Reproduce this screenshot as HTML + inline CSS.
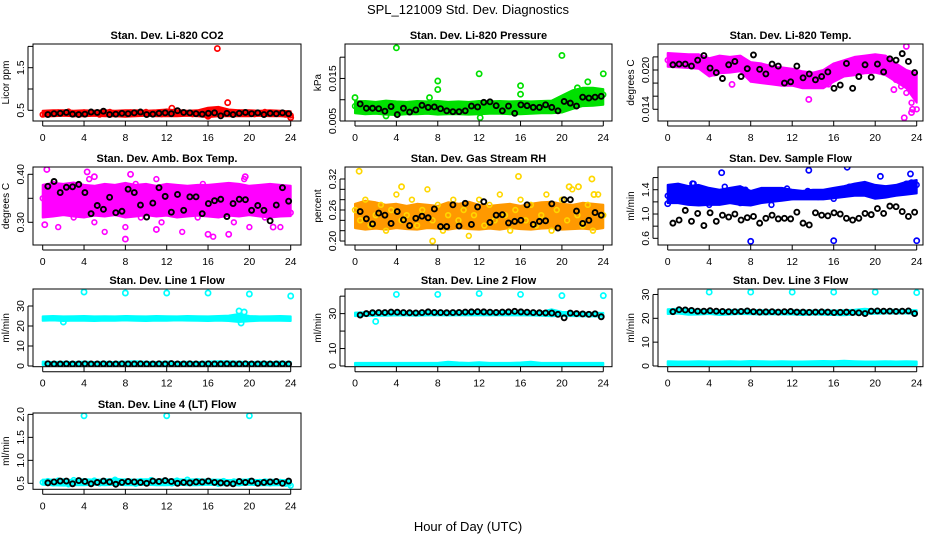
<!DOCTYPE html>
<html><head><meta charset="utf-8">
<style>
html,body{margin:0;padding:0;background:#fff;}
svg{display:block;font-family:"Liberation Sans",Arial,sans-serif;}
</style></head>
<body>
<svg id="chart" width="936" height="540" viewBox="0 0 936 540" xmlns="http://www.w3.org/2000/svg">
<rect x="0" y="0" width="936" height="540" fill="#fff"/>
<text x="468" y="14" font-size="13" text-anchor="middle">SPL_121009  Std. Dev. Diagnostics</text>
<text x="468" y="531" font-size="13" text-anchor="middle">Hour of Day (UTC)</text>
</svg>
<script>
// ---------- data ----------
const xTicks = [0,4,8,12,16,20,24];

// P1 CO2
const co2Lo = [0.36,0.36,0.37,0.36,0.36,0.37,0.36,0.36,0.35,0.36,0.37,0.36,0.36,0.36,0.37,0.36,0.34,0.36,0.36,0.36,0.36,0.37,0.36,0.36,0.35];
const co2Hi = [0.49,0.50,0.50,0.49,0.50,0.49,0.50,0.49,0.50,0.50,0.49,0.50,0.52,0.50,0.49,0.50,0.56,0.58,0.52,0.50,0.50,0.49,0.50,0.49,0.48];
const co2Color = [0.40,0.44,0.42,0.45,0.43,0.47,0.41,0.43,0.45,0.42,0.44,0.40,0.43,0.46,0.42,0.44,0.41,0.45,0.43,0.42,0.46,0.44,0.43,0.41,0.47,0.44,0.42,0.45,0.43,0.41,0.44,0.42,0.38,0.48,0.50,0.46,0.44,0.43,0.45,0.42,0.44,0.41,0.43,0.46,0.42,0.44,0.43,0.40,0.38];
const co2OutH = [16.9,17.9,16.0,24.0,12.5];
const co2OutV = [1.95,0.68,0.36,0.33,0.55];
const co2Black = [0.40,0.42,0.43,0.45,0.41,0.40,0.41,0.46,0.45,0.48,0.40,0.41,0.43,0.42,0.44,0.46,0.40,0.41,0.43,0.44,0.42,0.49,0.45,0.44,0.42,0.41,0.43,0.44,0.37,0.43,0.40,0.43,0.45,0.42,0.44,0.40,0.43,0.42,0.44,0.42];

// P2 Pressure
const prLo = [0.0068,0.0066,0.0067,0.0065,0.0064,0.0066,0.0066,0.0067,0.0065,0.0066,0.0066,0.0065,0.0066,0.0067,0.0067,0.0066,0.0066,0.0067,0.0068,0.0068,0.0070,0.0078,0.0085,0.0086,0.0088];
const prHi = [0.0096,0.0097,0.0095,0.0098,0.0096,0.0095,0.0097,0.0096,0.0097,0.0095,0.0096,0.0095,0.0097,0.0096,0.0097,0.0096,0.0097,0.0096,0.0097,0.0098,0.0110,0.0122,0.0128,0.0128,0.0125];
const prColor = [0.0085,0.0080,0.0078,0.0082,0.0075,0.0080,0.0079,0.0083,0.0072,0.0078,0.0081,0.0076,0.0080,0.0084,0.0079,0.0077,0.0083,0.0075,0.0079,0.0082,0.0078,0.0076,0.0081,0.0079,0.0083,0.0080,0.0077,0.0082,0.0085,0.0079,0.0081,0.0078,0.0080,0.0083,0.0079,0.0082,0.0081,0.0084,0.0080,0.0087,0.0095,0.0102,0.0108,0.0110,0.0112,0.0108,0.0113,0.0115,0.0112];
const prOutH = [4,8,8,12,12.1,16,16,20,24,22.5,0,7.2,3,21.5];
const prOutV = [0.0222,0.0144,0.0124,0.0161,0.0058,0.0133,0.0113,0.0204,0.0161,0.0142,0.0105,0.0105,0.0062,0.0128];
const prBlack = [0.0090,0.0080,0.0080,0.0079,0.0073,0.0084,0.0065,0.0080,0.0071,0.0076,0.0087,0.0082,0.0083,0.0079,0.0074,0.0072,0.0072,0.0074,0.0085,0.0083,0.0094,0.0095,0.0086,0.0074,0.0085,0.0068,0.0088,0.0086,0.0082,0.0082,0.0088,0.0082,0.0074,0.0096,0.0092,0.0085,0.0106,0.0104,0.0106,0.0108];

// P3 Li-820 Temp
const ltLo = [0.0205,0.0204,0.0203,0.0202,0.0190,0.0195,0.0196,0.0198,0.0182,0.0180,0.0178,0.0176,0.0176,0.0172,0.0172,0.0172,0.0182,0.0190,0.0192,0.0195,0.0196,0.0192,0.0182,0.0172,0.0150];
const ltHi = [0.0226,0.0225,0.0224,0.0224,0.0218,0.0222,0.0220,0.0222,0.0212,0.0210,0.0206,0.0204,0.0202,0.0198,0.0196,0.0200,0.0210,0.0215,0.0220,0.0222,0.0224,0.0222,0.0210,0.0200,0.0195];
const ltColor = [0.0215,0.0210,0.0218,0.0212,0.0214,0.0210,0.0216,0.0213,0.0200,0.0195,0.0212,0.0215,0.0208,0.0206,0.0218,0.0212,0.0196,0.0190,0.0200,0.0192,0.0185,0.0188,0.0190,0.0186,0.0182,0.0184,0.0178,0.0180,0.0185,0.0190,0.0180,0.0178,0.0192,0.0196,0.0200,0.0205,0.0206,0.0208,0.0210,0.0212,0.0214,0.0210,0.0212,0.0200,0.0185,0.0175,0.0165,0.0150,0.0140];
const ltOutH = [13.6,22.8,23.0,21.8,23.6,23.5,6.2];
const ltOutV = [0.0155,0.0127,0.0236,0.0170,0.0140,0.0135,0.0178];
const ltBlack = [0.0208,0.0209,0.0209,0.0206,0.0215,0.0222,0.0203,0.0196,0.0187,0.0208,0.0213,0.0190,0.0202,0.0223,0.0201,0.0194,0.0209,0.0206,0.0180,0.0182,0.0206,0.0188,0.0194,0.0185,0.0190,0.0197,0.0172,0.0177,0.0210,0.0172,0.0190,0.0208,0.0189,0.0209,0.0197,0.0217,0.0215,0.0225,0.0213,0.0196];

// P4 Amb Box Temp
const abLo = [0.310,0.312,0.315,0.312,0.310,0.314,0.312,0.315,0.310,0.312,0.315,0.312,0.314,0.310,0.312,0.314,0.312,0.310,0.314,0.312,0.315,0.312,0.310,0.312,0.313];
const abHi = [0.378,0.382,0.380,0.383,0.378,0.376,0.380,0.378,0.382,0.378,0.380,0.376,0.380,0.378,0.376,0.378,0.378,0.380,0.382,0.380,0.376,0.378,0.380,0.378,0.376];
const abColor = [0.35,0.32,0.38,0.29,0.36,0.34,0.31,0.37,0.33,0.39,0.30,0.35,0.28,0.36,0.33,0.37,0.29,0.34,0.38,0.31,0.36,0.33,0.39,0.30,0.35,0.32,0.37,0.28,0.34,0.36,0.31,0.38,0.33,0.27,0.35,0.32,0.37,0.30,0.34,0.39,0.29,0.36,0.33,0.31,0.37,0.34,0.29,0.36,0.32];
const abOutH = [0.4,4.3,8.0,8.5,0.2,5.0,16.0,18.0,19.6,22.3,11.0];
const abOutV = [0.410,0.405,0.265,0.400,0.295,0.395,0.275,0.275,0.395,0.290,0.285];
const abBlack = [0.375,0.385,0.362,0.373,0.374,0.379,0.362,0.318,0.335,0.327,0.352,0.320,0.323,0.369,0.362,0.336,0.311,0.340,0.372,0.354,0.321,0.358,0.325,0.353,0.353,0.318,0.339,0.345,0.348,0.312,0.339,0.348,0.347,0.325,0.335,0.325,0.303,0.336,0.372,0.344];

// P5 Gas Stream RH
const rhLo = [0.225,0.222,0.224,0.222,0.225,0.223,0.222,0.225,0.224,0.222,0.225,0.223,0.222,0.224,0.222,0.225,0.223,0.222,0.224,0.225,0.222,0.223,0.224,0.222,0.225];
const rhHi = [0.272,0.278,0.275,0.270,0.272,0.268,0.272,0.270,0.268,0.275,0.272,0.276,0.270,0.268,0.270,0.272,0.268,0.272,0.275,0.276,0.272,0.270,0.274,0.272,0.270];
const rhColor = [0.26,0.24,0.28,0.23,0.25,0.27,0.22,0.26,0.29,0.24,0.25,0.28,0.23,0.26,0.30,0.24,0.27,0.22,0.25,0.28,0.24,0.26,0.21,0.25,0.28,0.23,0.27,0.24,0.29,0.25,0.22,0.26,0.28,0.24,0.27,0.23,0.25,0.29,0.22,0.26,0.28,0.24,0.30,0.25,0.23,0.27,0.22,0.29,0.25];
const rhOutH = [0.4,15.8,22.9,4.5,7.5,20.7,21.6,23.1];
const rhOutV = [0.335,0.325,0.320,0.305,0.200,0.305,0.305,0.290];
const rhBlack = [0.257,0.243,0.233,0.254,0.250,0.234,0.257,0.241,0.230,0.244,0.248,0.245,0.262,0.228,0.228,0.270,0.229,0.273,0.232,0.266,0.276,0.236,0.250,0.251,0.235,0.238,0.240,0.270,0.232,0.238,0.239,0.272,0.225,0.280,0.280,0.258,0.234,0.240,0.255,0.250];

// P6 Sample Flow
const sfLo = [1.18,1.18,1.15,1.14,1.15,1.15,1.18,1.15,1.14,1.18,1.20,1.22,1.24,1.24,1.24,1.24,1.26,1.28,1.30,1.30,1.25,1.27,1.30,1.32,1.34];
const sfHi = [1.48,1.50,1.46,1.48,1.43,1.40,1.43,1.46,1.38,1.43,1.43,1.43,1.40,1.38,1.40,1.40,1.43,1.46,1.50,1.53,1.48,1.46,1.48,1.53,1.56];
const sfColor = [1.30,1.45,1.25,1.38,1.20,1.50,1.28,1.40,1.15,1.35,1.25,1.45,1.22,1.32,1.18,1.40,1.28,1.35,1.22,1.30,1.15,1.38,1.32,1.42,1.28,1.35,1.30,1.38,1.32,1.28,1.35,1.30,1.25,1.40,1.32,1.45,1.38,1.42,1.48,1.40,1.35,1.30,1.42,1.38,1.35,1.45,1.50,1.52,1.48];
const sfOutH = [8.0,16.0,24.0,17.3,5.2,13.6,23.4,2.4,20.5,0.0];
const sfOutV = [0.55,0.56,0.56,1.77,1.68,1.72,1.66,1.50,1.62,1.17];
const sfBlack = [0.85,0.90,1.06,0.88,1.01,0.81,1.02,0.88,0.98,0.95,1.00,0.90,0.94,0.96,0.85,0.93,0.98,0.92,0.93,0.92,1.03,0.85,0.82,1.02,0.98,0.97,1.02,1.00,0.93,0.90,0.93,1.01,0.99,1.09,1.01,1.13,1.12,1.04,0.96,1.03];

// P7 Line 1 Flow
const l1UpLo = [22.6,22.8,22.5,22.7,22.6,22.5,22.7,22.6,22.8,22.6,22.5,22.7,22.6,22.8,22.7,22.6,22.5,22.7,22.5,22.0,22.4,22.6,22.7,22.6,22.5];
const l1UpHi = [24.8,25.0,24.8,24.9,25.0,24.8,24.9,24.8,25.0,24.9,24.8,25.0,24.9,24.8,25.0,24.9,24.8,25.0,25.2,26.0,25.0,24.8,24.9,25.0,24.8];
const l1LoLo = [0.5,0.5,0.5,0.5,0.5,0.5,0.5,0.5,0.5,0.5,0.5,0.5,0.5,0.5,0.5,0.5,0.5,0.5,0.5,0.5,0.5,0.5,0.5,0.5,0.5];
const l1LoHi = [2.2,2.0,2.1,2.0,2.2,2.0,2.1,2.0,2.2,2.4,2.1,2.0,2.2,2.0,2.1,2.0,2.2,2.4,2.3,2.2,2.0,2.1,2.0,2.2,2.0];
const l1OutH = [4,8,12,16,20,24,19.0,19.5,2.0,19.2];
const l1OutV = [37.0,36.5,36.5,36.5,36.0,35.0,27.5,27.0,22.0,21.5];
const l1Black = [1.1,1.0,1.0,1.1,1.0,1.0,1.1,1.0,1.0,1.1,1.0,1.0,1.1,1.0,1.0,1.1,1.0,1.0,1.1,1.0,1.2,1.0,1.0,1.1,1.0,1.0,1.1,1.0,1.0,1.1,1.0,1.0,1.1,1.0,1.0,1.1,1.0,1.0,1.1,1.0];

// P8 Line 2 Flow
const l2UpLo = [28.6,28.8,28.7,28.8,29.0,28.9,28.8,29.0,29.0,28.9,29.0,29.1,29.0,29.0,29.1,29.0,29.0,28.9,28.8,28.5,28.7,28.6,28.5,28.4,28.2];
const l2UpHi = [30.6,30.8,31.0,31.2,31.2,31.0,31.1,31.3,31.4,31.2,31.3,31.5,31.4,31.3,31.3,31.4,31.3,31.2,31.0,32.5,31.0,30.8,30.6,30.5,30.4];
const l2LoLo = [0.4,0.4,0.4,0.4,0.4,0.4,0.4,0.4,0.4,0.4,0.4,0.4,0.4,0.4,0.4,0.4,0.4,0.4,0.4,0.4,0.4,0.4,0.4,0.4,0.4];
const l2LoHi = [1.8,1.8,1.8,1.8,1.8,1.8,1.8,1.8,1.8,2.4,2.0,1.8,2.2,1.8,1.8,1.8,2.0,2.4,1.8,1.8,1.8,1.8,1.8,1.8,1.8];
const l2OutH = [4,8,12,16,20,24,2.0];
const l2OutV = [41.0,41.0,41.5,41.0,40.3,40.3,25.5];
const l2Black = [29.2,30.0,30.5,30.6,30.6,30.9,30.8,30.6,30.5,30.4,30.6,31.0,30.7,30.6,30.5,30.6,30.7,30.9,31.0,31.1,31.0,30.8,30.7,30.9,31.0,31.3,31.0,30.8,30.6,30.5,30.4,30.3,29.6,27.6,30.3,30.0,29.8,29.6,29.9,28.2];

// P9 Line 3 Flow
const l3UpLo = [21.8,22.0,21.5,21.6,21.8,21.4,21.6,21.8,21.7,21.6,21.7,21.6,21.6,21.4,21.6,21.5,21.4,21.3,21.6,21.8,21.9,22.0,22.0,22.0,21.8];
const l3UpHi = [23.8,24.0,23.8,23.6,23.5,23.4,23.5,23.6,23.5,23.4,23.4,23.3,23.4,23.3,23.3,23.4,23.3,23.4,23.6,24.0,23.6,23.5,23.6,23.5,23.4];
const l3LoLo = [0.4,0.4,0.4,0.4,0.4,0.4,0.4,0.4,0.4,0.4,0.4,0.4,0.4,0.4,0.4,0.4,0.4,0.4,0.4,0.4,0.4,0.4,0.4,0.4,0.4];
const l3LoHi = [2.0,1.9,1.9,2.0,1.9,1.9,2.0,1.9,2.1,2.0,1.9,2.0,1.9,1.9,2.0,2.1,2.0,2.2,2.0,1.9,1.9,2.0,1.9,2.0,1.9];
const l3OutH = [4,8,12,16,20,24];
const l3OutV = [31.0,31.0,31.0,31.0,31.0,30.8];
const l3Black = [22.8,23.6,23.5,23.3,23.0,23.0,23.2,23.0,22.9,22.8,22.8,22.9,23.1,22.8,22.6,22.7,22.8,22.6,22.8,22.9,22.6,22.6,22.5,22.6,22.7,22.6,22.4,22.5,22.6,22.4,22.3,22.0,23.0,23.1,23.0,23.0,22.9,23.0,23.1,22.0];

// P10 Line 4 (LT) Flow
const l4Lo = [0.47,0.46,0.45,0.46,0.46,0.47,0.46,0.47,0.46,0.46,0.47,0.46,0.46,0.47,0.46,0.46,0.47,0.46,0.46,0.46,0.47,0.46,0.46,0.46,0.45];
const l4Hi = [0.58,0.58,0.59,0.57,0.59,0.58,0.58,0.60,0.58,0.58,0.59,0.58,0.58,0.59,0.58,0.59,0.58,0.58,0.57,0.58,0.58,0.57,0.58,0.57,0.57];
const l4Color = [0.52,0.55,0.50,0.56,0.53,0.48,0.57,0.51,0.54,0.52,0.56,0.50,0.55,0.53,0.58,0.51,0.54,0.52,0.49,0.55,0.53,0.57,0.51,0.54,0.52,0.50,0.56,0.53,0.58,0.52,0.55,0.51,0.54,0.53,0.49,0.55,0.52,0.54,0.50,0.53,0.55,0.51,0.53,0.54,0.50,0.52,0.53,0.49,0.45];
const l4OutH = [4,12,20];
const l4OutV = [1.97,1.97,1.97];
const l4Black = [0.51,0.53,0.55,0.55,0.49,0.56,0.54,0.49,0.52,0.55,0.53,0.48,0.52,0.54,0.53,0.52,0.50,0.55,0.54,0.56,0.54,0.50,0.52,0.51,0.53,0.53,0.55,0.52,0.51,0.50,0.49,0.54,0.52,0.55,0.50,0.52,0.53,0.54,0.50,0.55];

// ---------- layout ----------
const NS = "http://www.w3.org/2000/svg";
const svg = document.getElementById('chart');
const colL = [33,345,658], colR = [301,612,923], colX0 = [42.7,355,667.7], colX24 = [290.7,603.3,916.7];
const rowT = [44,167,289,413], rowB = [121,245,366.7,489.3];

function mk(tag, attrs, parent){
  const e = document.createElementNS(NS, tag);
  for (const k in attrs) e.setAttribute(k, attrs[k]);
  (parent||svg).appendChild(e);
  return e;
}

const panels = [
  {c:0,r:0,title:"Stan. Dev. Li-820 CO2",ylab:"Licor ppm",ymin:0.249,ymax:2.056,ticks:[0.5,1.0,1.5,2.0],labels:["0.5","","1.5",""],color:"#ff0000",bands:[[co2Lo,co2Hi]],pts:[co2Color],oh:co2OutH,ov:co2OutV,black:co2Black,name:"co2"},
  {c:1,r:0,title:"Stan. Dev. Li-820 Pressure",ylab:"kPa",ymin:0.005,ymax:0.0231,ticks:[0.005,0.010,0.015,0.020],labels:["0.005","","0.015",""],color:"#00e000",bands:[[prLo,prHi]],pts:[prColor],oh:prOutH,ov:prOutV,black:prBlack,name:"pressure"},
  {c:2,r:0,title:"Stan. Dev. Li-820 Temp.",ylab:"degrees C",ymin:0.01221,ymax:0.02397,ticks:[0.014,0.016,0.018,0.020,0.022],labels:["0.014","","","0.020",""],color:"#ff00ff",bands:[[ltLo,ltHi]],pts:[ltColor],oh:ltOutH,ov:ltOutV,black:ltBlack,name:"licor-temp"},
  {c:0,r:1,title:"Stan. Dev. Amb. Box Temp.",ylab:"degrees C",ymin:0.2527,ymax:0.4152,ticks:[0.30,0.35,0.40],labels:["0.30","","0.40"],color:"#ff00ff",bands:[[abLo,abHi]],pts:[abColor],oh:abOutH,ov:abOutV,black:abBlack,name:"box-temp"},
  {c:1,r:1,title:"Stan. Dev. Gas Stream RH",ylab:"percent",ymin:0.1923,ymax:0.3432,ticks:[0.20,0.22,0.24,0.26,0.28,0.30,0.32],labels:["0.20","","","0.26","","","0.32"],color:"#ff9900",ptColor:"#ffd700",bands:[[rhLo,rhHi]],pts:[rhColor],oh:rhOutH,ov:rhOutV,black:rhBlack,name:"gas-rh"},
  {c:2,r:1,title:"Stan. Dev. Sample Flow",ylab:"ml/min",ymin:0.49,ymax:1.774,ticks:[0.6,0.8,1.0,1.2,1.4,1.6],labels:["0.6","","1.0","","1.4",""],color:"#0000ff",bands:[[sfLo,sfHi]],pts:[sfColor],oh:sfOutH,ov:sfOutV,black:sfBlack,name:"sample-flow"},
  {c:0,r:2,title:"Stan. Dev. Line 1 Flow",ylab:"ml/min",ymin:-0.35,ymax:38.5,ticks:[0,10,20,30],labels:["0","10","20","30"],color:"#00ffff",bands:[[l1UpLo,l1UpHi],[l1LoLo,l1LoHi]],pts:[],oh:l1OutH,ov:l1OutV,black:l1Black,name:"line1-flow"},
  {c:1,r:2,title:"Stan. Dev. Line 2 Flow",ylab:"ml/min",ymin:-0.4,ymax:44.1,ticks:[0,10,20,30,40],labels:["0","10","","30",""],color:"#00ffff",bands:[[l2UpLo,l2UpHi],[l2LoLo,l2LoHi]],pts:[],oh:l2OutH,ov:l2OutV,black:l2Black,name:"line2-flow"},
  {c:2,r:2,title:"Stan. Dev. Line 3 Flow",ylab:"ml/min",ymin:-0.3,ymax:32.3,ticks:[0,10,20,30],labels:["0","10","20","30"],color:"#00ffff",bands:[[l3UpLo,l3UpHi],[l3LoLo,l3LoHi]],pts:[],oh:l3OutH,ov:l3OutV,black:l3Black,name:"line3-flow"},
  {c:0,r:3,title:"Stan. Dev. Line 4 (LT) Flow",ylab:"ml/min",ymin:0.37,ymax:2.03,ticks:[0.5,1.0,1.5,2.0],labels:["0.5","1.0","1.5","2.0"],color:"#00ffff",bands:[[l4Lo,l4Hi]],pts:[l4Color],oh:l4OutH,ov:l4OutV,black:l4Black,name:"line4-flow"}
];

panels.forEach(p => {
  const L=colL[p.c], R=colR[p.c], T=rowT[p.r], B=rowB[p.r];
  const xs = h => colX0[p.c] + (colX24[p.c]-colX0[p.c]) * h / 24;
  const ys = v => B - (v - p.ymin) / (p.ymax - p.ymin) * (B - T);
  const g = mk('g', {});
  
  
  const clipId = 'clip-' + p.name;
  const cp = mk('clipPath', {id: clipId}, g);
  mk('rect', {x:L, y:T, width:R-L, height:B-T}, cp);
  const plot = mk('g', {'clip-path':'url(#'+clipId+')'}, g);

  p.bands.forEach(b => {
    const lo=b[0], hi=b[1];
    let pts=[];
    for (let i=0;i<hi.length;i++) pts.push(xs(i*24/(hi.length-1)).toFixed(1)+','+ys(hi[i]).toFixed(1));
    for (let i=lo.length-1;i>=0;i--) pts.push(xs(i*24/(lo.length-1)).toFixed(1)+','+ys(lo[i]).toFixed(1));
    const poly = mk('polygon', {points:pts.join(' '), fill:p.color, stroke:p.color, 'stroke-width':2, 'stroke-linejoin':'round'}, plot);
    
    
  });
  const pc = p.ptColor || p.color;
  p.pts.forEach(arr => {
    arr.forEach((v,i) => {
      const c = mk('circle', {cx:xs(i*24/(arr.length-1)), cy:ys(v), r:2.4, fill:'none', stroke:pc, 'stroke-width':1.6}, plot);
      
      
    });
  });
  p.oh.forEach((h,i) => {
    const c = mk('circle', {cx:xs(h), cy:ys(p.ov[i]), r:2.6, fill:'none', stroke:pc, 'stroke-width':1.7}, plot);
    
    
  });
  p.black.forEach((v,i) => {
    const h = 0.5 + i * (23.3 / (p.black.length-1));
    const c = mk('circle', {cx:xs(h), cy:ys(v), r:2.5, fill:'none', stroke:'#000', 'stroke-width':1.9}, plot);
    
    
  });

  const box = mk('rect', {x:L, y:T, width:R-L, height:B-T, fill:'none', stroke:'#000', 'stroke-width':1}, g);
  
  
  const t = mk('text', {x:(L+R)/2, y:T-5, 'font-size':11, 'font-weight':'bold', 'text-anchor':'middle'}, g);
  t.textContent = p.title;
  
  
  p.ticks.forEach((v,i) => {
    const y = ys(v);
    mk('line', {x1:L-5, x2:L, y1:y, y2:y, stroke:'#000', 'stroke-width':1}, g);
    if (p.labels[i]) {
      const tl = mk('text', {x:0, y:0, 'font-size':10.5, 'text-anchor':'middle', transform:'translate('+(L-9)+','+y+') rotate(-90)'}, g);
      tl.textContent = p.labels[i];
      
      
    }
  });
  mk('line', {x1:L-5, x2:L-5, y1:ys(p.ticks[0]), y2:ys(p.ticks[p.ticks.length-1]), stroke:'#000', 'stroke-width':1}, g);
  const yl = mk('text', {x:0, y:0, 'font-size':10, 'text-anchor':'middle', transform:'translate('+(L-24)+','+((T+B)/2)+') rotate(-90)'}, g);
  yl.textContent = p.ylab;
  
  
  mk('line', {x1:xs(0), x2:xs(24), y1:B+5, y2:B+5, stroke:'#000', 'stroke-width':1}, g);
  xTicks.forEach(h => {
    mk('line', {x1:xs(h), x2:xs(h), y1:B, y2:B+5, stroke:'#000', 'stroke-width':1}, g);
    const tl = mk('text', {x:xs(h), y:B+20, 'font-size':10.5, 'text-anchor':'middle'}, g);
    tl.textContent = h;
    
    
  });
});
</script>
</body></html>
